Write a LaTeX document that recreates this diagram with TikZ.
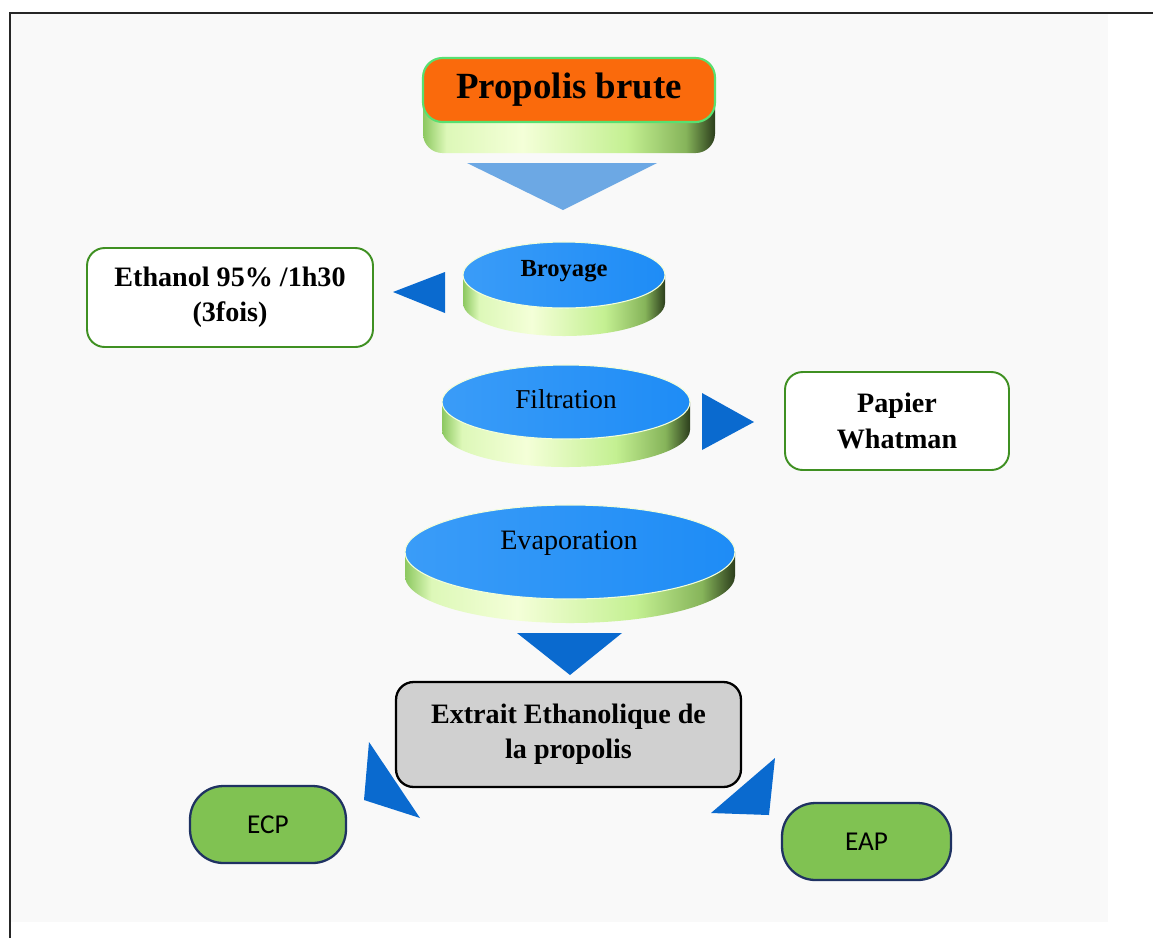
\documentclass[tikz,border=0pt]{standalone}
\usepackage{fontspec}
\setmainfont{Liberation Serif}
\newfontfamily\calibri{Carlito}

\definecolor{fondgris}{HTML}{F9F9F9}
\definecolor{bleuface}{HTML}{1E8CF6}
\definecolor{bleuclair}{HTML}{3A9CF8}
\definecolor{bleufleche}{HTML}{0A6ACF}
\definecolor{bleupale}{HTML}{6CA8E4}
\definecolor{orangebrut}{HTML}{FA6A0C}
\definecolor{vertlueur}{HTML}{58E070}
\definecolor{vertbord}{HTML}{3F9022}
\definecolor{vertpastille}{HTML}{80C252}
\definecolor{marine}{HTML}{1F3262}
\definecolor{grisboite}{HTML}{D0D0D0}
\definecolor{flancg}{HTML}{8CC860}
\definecolor{flancc}{HTML}{DDF8B8}
\definecolor{flancm}{HTML}{F4FFD8}
\definecolor{flancv}{HTML}{C4F092}
\definecolor{flancs}{HTML}{86B45A}
\definecolor{flancd}{HTML}{2C3E1C}

\pgfdeclarehorizontalshading{flanc}{100bp}{color(0bp)=(flancg); color(25bp)=(flancg);
  color(29bp)=(flancc); color(42bp)=(flancm); color(60bp)=(flancv);
  color(70bp)=(flancs); color(75bp)=(flancd); color(100bp)=(flancd)}

\tikzset{
  fleche/.style={fill=bleufleche},
  boite/.style={draw=vertbord, line width=1.1pt, fill=white, rounded corners=10pt,
    align=center, font=\bfseries\fontsize{16}{20}\selectfont},
  pastille/.style={draw=marine, line width=1.3pt, fill=vertpastille, rounded corners=19pt,
    font=\calibri\fontsize{15.5}{18}\selectfont},
  etape/.style={font=\fontsize{15.5}{18}\selectfont}
}

% disque 3D : centre x, centre y, rayon x, rayon y, epaisseur
\newcommand{\disque}[5]{%
  \shade[shading=flanc]
    (#1-#3,#2) -- (#1-#3,#2+#5) arc[start angle=180, end angle=0, x radius=#3, y radius=#4]
    -- (#1+#3,#2) arc[start angle=0, end angle=180, x radius=#3, y radius=#4] -- cycle;
  \shade[left color=bleuclair, right color=bleuface, draw=flancm, line width=0.6pt]
    (#1,#2) ellipse[x radius=#3, y radius=#4];
}

\begin{document}
\begin{tikzpicture}[x=0.02cm, y=-0.02cm]
    \useasboundingbox (0,0) rectangle (1153,938);
    \fill[fondgris] (10,13) rectangle (1108,922);
    \draw[line width=1.2pt, black!85] (10,938) |- (1153,13);

    % propolis brute
    \shade[shading=flanc, rounded corners=11pt] (423,89) rectangle (715,153);
    \node[draw=vertlueur, line width=1.2pt, fill=orangebrut, rounded corners=11pt,
        minimum width=5.84cm, minimum height=1.28cm,
        font=\bfseries\fontsize{21}{24}\selectfont] (brute) at (569,90) {Propolis brute};
    \fill[bleupale] (467,163) -- (657,163) -- (563,210) -- cycle;

    % broyage
    \disque{564}{275}{101}{33}{28}
    \node[etape, font=\bfseries\fontsize{14}{16}\selectfont] (broyage) at (564,271) {Broyage};
    \fill[fleche] (445,272) -- (445,313) -- (393,292) -- cycle;
    \node[boite, minimum width=5.72cm, minimum height=1.98cm] (ethanol) at (230,297.5)
        {Ethanol 95\% /1h30\\(3fois)};

    % filtration
    \disque{566}{402}{124}{37}{28}
    \node[etape] (filtration) at (566,399) {Filtration};
    \fill[fleche] (702,393) -- (702,450) -- (754,422) -- cycle;
    \node[boite, minimum width=4.48cm, minimum height=1.96cm] (papier) at (897,421)
        {Papier\\Whatman};

    % evaporation
    \disque{570}{552}{165}{47}{24}
    \node[etape, font=\fontsize{16}{18}\selectfont] (evaporation) at (569,543) {Evaporation};
    \fill[fleche] (517,633) -- (622,633) -- (570,675) -- cycle;

    % extrait
    \node[boite, draw=black, line width=1.3pt, fill=grisboite, minimum width=6.9cm,
        minimum height=2.1cm] (extrait) at (568.5,734.5)
        {Extrait Ethanolique de\\la propolis};
    \fill[fleche] (369,742) -- (364,800) -- (420,818) -- cycle;
    \fill[fleche] (775,758) -- (711,813) -- (769,815) -- cycle;
    \node[pastille, minimum width=3.12cm, minimum height=1.54cm] (ecp) at (268,824.5) {ECP};
    \node[pastille, minimum width=3.38cm, minimum height=1.54cm] (eap) at (866.5,841.5) {EAP};
\end{tikzpicture}
\end{document}
